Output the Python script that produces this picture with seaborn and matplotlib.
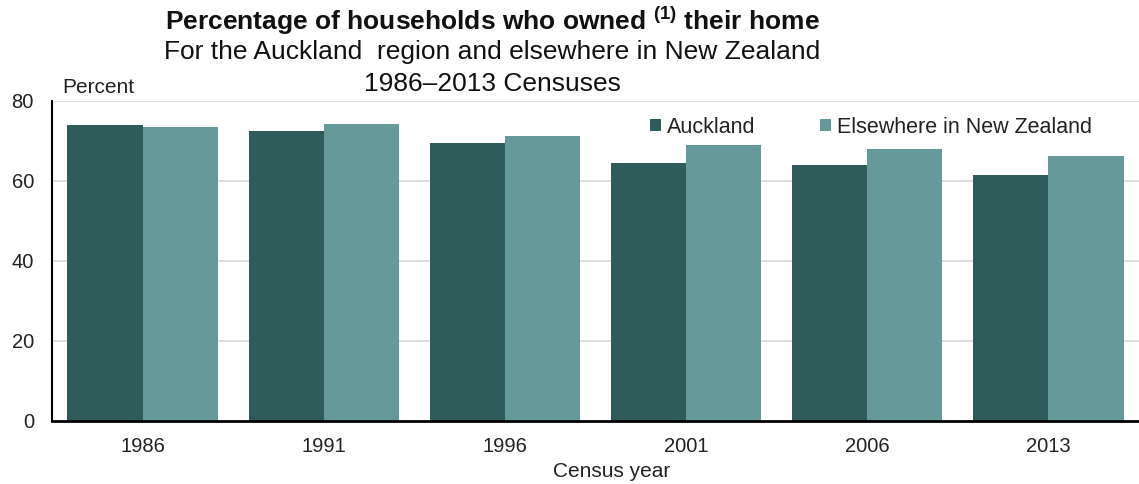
import matplotlib
matplotlib.use("Agg")
import matplotlib.pyplot as plt
import seaborn as sns
import pandas as pd
from matplotlib.patches import Patch

# Census years and home-ownership rates (percent)
years = ["1986", "1991", "1996", "2001", "2006", "2013"]
auckland = [73.8, 72.4, 69.3, 64.4, 63.8, 61.3]
elsewhere = [73.4, 74.1, 71.2, 68.9, 68.0, 66.1]
series_names = ["Auckland", "Elsewhere in New Zealand"]
y_ticks = [0, 20, 40, 60, 80]

sns.set_theme(style="white")
plt.rcParams["font.family"] = ["Liberation Sans", "DejaVu Sans"]
plt.rcParams["mathtext.fontset"] = "custom"
plt.rcParams["mathtext.rm"] = "Liberation Sans"
plt.rcParams["mathtext.bf"] = "Liberation Sans:bold"

df = pd.DataFrame({
    "year": years * 2,
    "value": auckland + elsewhere,
    "area": [series_names[0]] * len(years) + [series_names[1]] * len(years),
})

colors = {series_names[0]: "#2f5b5a", series_names[1]: "#669a9a"}

fig = plt.figure(figsize=(11.39, 4.84), dpi=100)
ax = fig.add_axes([0.0457, 0.1308, 0.9543, 0.6612])

sns.barplot(data=df, x="year", y="value", hue="area", palette=colors,
            width=0.83, ax=ax, legend=False, saturation=1,
            edgecolor="none", linewidth=0)

ax.set_ylim(0, 80)
ax.set_xlim(-0.5, len(years) - 0.5)
ax.set_yticks(y_ticks)
ax.set_yticklabels([str(t) for t in y_ticks], fontsize=14.5, color="#222222")
ax.tick_params(axis="x", labelsize=14.5, colors="#222222", pad=12, length=0)
ax.tick_params(axis="y", length=0, pad=13)
ax.yaxis.grid(True, color="#d9d9d9", linewidth=1.2)
ax.set_axisbelow(True)
for side in ["top", "right"]:
    ax.spines[side].set_visible(False)
ax.spines["left"].set_color("black")
ax.spines["left"].set_linewidth(1.5)
ax.spines["bottom"].set_color("black")
ax.spines["bottom"].set_linewidth(2)

ax.set_ylabel("")
ax.set_xlabel("Census year", fontsize=15, color="#222222")
ax.xaxis.set_label_coords(0.515, -0.13)

# "Percent" unit label above the value axis
ax.text(0.009, 1.012, "Percent", transform=ax.transAxes, fontsize=15,
        color="#222222", ha="left", va="bottom")

handles = [Patch(facecolor=colors[n], edgecolor="none") for n in series_names]
ax.legend(handles, series_names, loc="upper right", bbox_to_anchor=(0.975, 1.01),
          ncol=2, frameon=False, fontsize=15.5, handlelength=0.5, handleheight=0.5,
          handletextpad=0.3, columnspacing=3.0, labelcolor="#222222")

fig.text(0.432, 0.957, r"Percentage of households who owned $^{\mathbf{(1)}}$ their home",
         ha="center", va="center", fontsize=19, fontweight="bold", color="#111111")
fig.text(0.432, 0.893, "For the Auckland  region and elsewhere in New Zealand",
         ha="center", va="center", fontsize=19, color="#111111")
fig.text(0.432, 0.826, "1986\u20132013 Censuses",
         ha="center", va="center", fontsize=19, color="#111111")

fig.savefig("out.png", dpi=100)
